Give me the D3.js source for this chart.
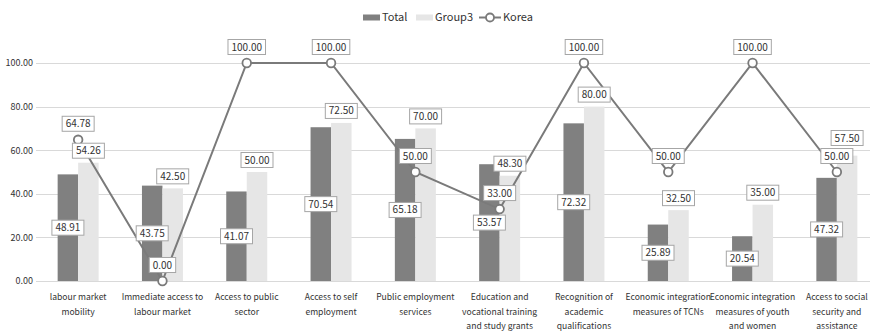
<!DOCTYPE html>
<html>
<head>
<meta charset="utf-8">
<script src="https://cdn.jsdelivr.net/npm/d3@7"></script>
<style>
  html, body { margin: 0; padding: 0; background: #fff; }
  svg { display: block; font-family: "Noto Sans CJK KR", "Noto Sans", sans-serif; }
</style>
</head>
<body>
<svg id="chart" width="870" height="332"></svg>
<script>
// Category names (line breaks mark how each axis label wraps)
const categories = [
  "labour market\nmobility",
  "Immediate access to\nlabour market",
  "Access to public\nsector",
  "Access to self\nemployment",
  "Public employment\nservices",
  "Education and\nvocational training\nand study grants",
  "Recognition of\nacademic\nqualifications",
  "Economic integration\nmeasures of TCNs",
  "Economic integration\nmeasures of youth\nand women",
  "Access to social\nsecurity and\nassistance"
];
const totalValues  = [48.91, 43.75, 41.07, 70.54, 65.18, 53.57, 72.32, 25.89, 20.54, 47.32];
const group3Values = [54.26, 42.50, 50.00, 72.50, 70.00, 48.30, 80.00, 32.50, 35.00, 57.50];
const koreaValues  = [64.78, 0.00, 100.00, 100.00, 50.00, 33.00, 100.00, 50.00, 100.00, 50.00];
const yTicks = [0, 20, 40, 60, 80, 100];
const seriesNames = ["Total", "Group3", "Korea"];

const svg = d3.select("#chart");
const W = 870, H = 332;

const x = d3.scaleBand().domain(d3.range(categories.length)).range([36, 879]);
const y = d3.scaleLinear().domain([0, 100]).range([281, 63]);
const barW = 20.5;
const fmt = d3.format(".2f");

const colTotal = "#808080", colGroup = "#e6e6e6", colLine = "#7a7a7a";
const textCol = "#333";

// Gridlines and y-axis labels
const yAxis = d3.axisLeft(y).tickValues(yTicks).tickFormat(fmt).tickSize(0).tickPadding(3);
const gy = svg.append("g").attr("transform", "translate(36,0)").call(yAxis);
gy.select(".domain").remove();
gy.selectAll("text").attr("font-size", 9).attr("fill", textCol)
  .attr("font-family", "'Noto Sans CJK KR', sans-serif");
svg.append("g").selectAll("line").data(yTicks).join("line")
  .attr("x1", 36).attr("x2", W)
  .attr("y1", d => Math.round(y(d)) + 0.5).attr("y2", d => Math.round(y(d)) + 0.5)
  .attr("stroke", "#d9d9d9").attr("stroke-width", 1);

const cx = i => x(i) + x.bandwidth() / 2;

// Bars
svg.append("g").selectAll("rect").data(totalValues).join("rect")
  .attr("x", (d, i) => cx(i) - barW).attr("width", barW)
  .attr("y", d => y(d)).attr("height", d => y(0) - y(d))
  .attr("fill", colTotal);
svg.append("g").selectAll("rect").data(group3Values).join("rect")
  .attr("x", (d, i) => cx(i)).attr("width", barW)
  .attr("y", d => y(d)).attr("height", d => y(0) - y(d))
  .attr("fill", colGroup);

// Korea line and markers
const line = d3.line().x((d, i) => cx(i)).y(d => y(d));
svg.append("path").datum(koreaValues).attr("d", line)
  .attr("fill", "none").attr("stroke", colLine).attr("stroke-width", 2);
svg.append("g").selectAll("circle").data(koreaValues).join("circle")
  .attr("cx", (d, i) => cx(i)).attr("cy", d => y(d)).attr("r", 4.3)
  .attr("fill", "#fff").attr("stroke", colLine).attr("stroke-width", 1.8);

// Boxed value labels
const boxH = 15;
function boxLabel(g, px, py, value) {
  const grp = g.append("g").attr("transform", `translate(${px},${py})`);
  const rect = grp.append("rect").attr("fill", "#fff").attr("stroke", "#a6a6a6").attr("stroke-width", 1);
  const t = grp.append("text").text(fmt(value))
    .attr("text-anchor", "middle").attr("dy", "0.35em")
    .attr("font-size", 10).attr("fill", textCol);
  const w = t.node().getComputedTextLength() + 7;
  rect.attr("x", -w / 2).attr("y", -boxH / 2).attr("width", w).attr("height", boxH);
  return { grp, px, py, w };
}
const labels = svg.append("g");
totalValues.forEach((v, i) => boxLabel(labels, cx(i) - barW / 2, (y(v) + y(0)) / 2, v));
const gLabels = group3Values.map((v, i) => boxLabel(labels, cx(i) + barW / 2, y(v) - 12, v));
const kLabels = koreaValues.map((v, i) => boxLabel(labels, cx(i), y(v) - 16, v));

// Lift a Group3 label above the Korea label when the two boxes collide
gLabels.forEach((g, i) => {
  const k = kLabels[i];
  const overlapX = Math.abs(g.px - k.px) < (g.w + k.w) / 2;
  const overlapY = Math.abs(g.py - k.py) < boxH;
  if (overlapX && overlapY && g.py < k.py + boxH / 2) {
    const ny = k.py - boxH - 3;
    g.grp.attr("transform", `translate(${g.px},${ny})`);
  }
});

// Category labels
const cat = svg.append("g");
categories.forEach((c, i) => {
  const t = cat.append("text").attr("text-anchor", "middle")
    .attr("font-size", 8.6).attr("fill", textCol);
  c.split("\n").forEach((ln, k) => {
    t.append("tspan").attr("x", cx(i)).attr("y", 300 + k * 14.7).text(ln);
  });
});

// Legend
const lg = svg.append("g").attr("font-size", 11).attr("fill", textCol);
lg.append("rect").attr("x", 363).attr("y", 14.5).attr("width", 17).attr("height", 6).attr("fill", colTotal);
lg.append("text").attr("x", 382).attr("y", 17.5).attr("dy", "0.35em").text(seriesNames[0]);
lg.append("rect").attr("x", 416).attr("y", 14.5).attr("width", 17).attr("height", 6).attr("fill", colGroup);
lg.append("text").attr("x", 435).attr("y", 17.5).attr("dy", "0.35em").text(seriesNames[1]);
lg.append("line").attr("x1", 479).attr("x2", 501).attr("y1", 17.5).attr("y2", 17.5)
  .attr("stroke", colLine).attr("stroke-width", 2);
lg.append("circle").attr("cx", 490).attr("cy", 17.5).attr("r", 4)
  .attr("fill", "#fff").attr("stroke", colLine).attr("stroke-width", 1.8);
lg.append("text").attr("x", 503).attr("y", 17.5).attr("dy", "0.35em").text(seriesNames[2]);
</script>
</body>
</html>
